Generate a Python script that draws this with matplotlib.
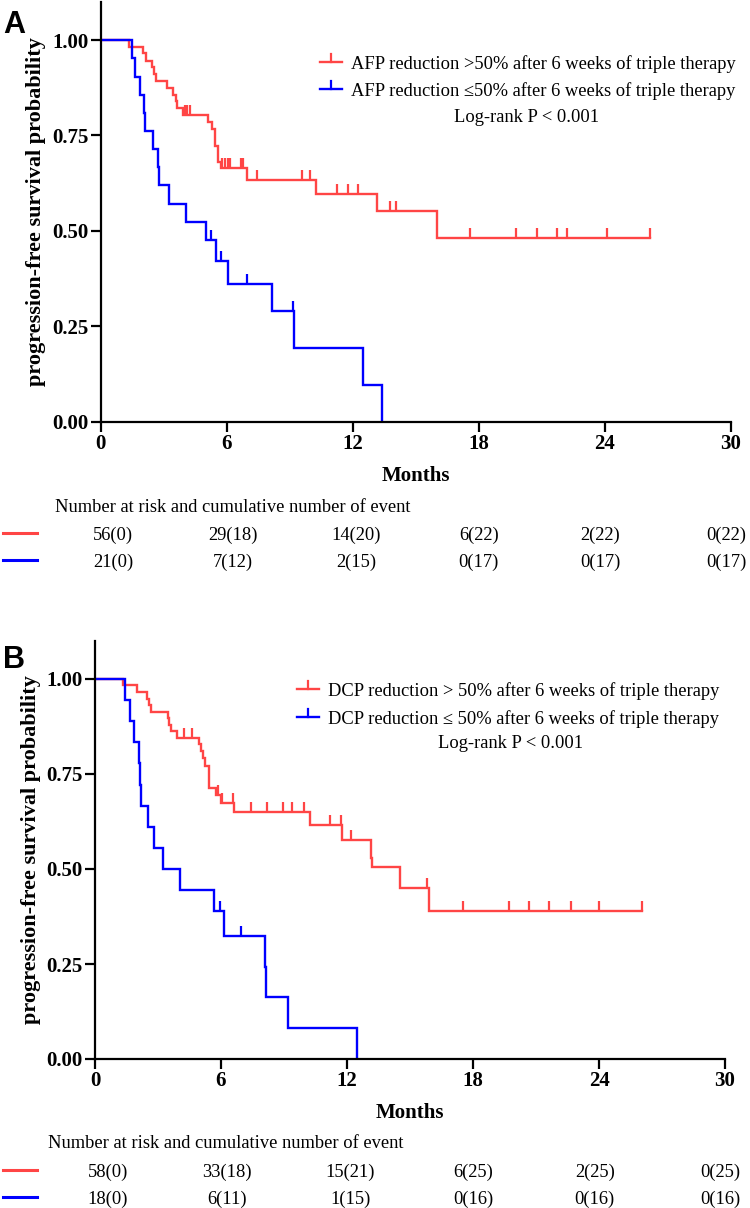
import numpy as np
import matplotlib
matplotlib.use("Agg")
import matplotlib.pyplot as plt
from matplotlib.lines import Line2D

# ---------------- data ----------------
# Panel A (AFP)
a_red_times = [1.36, 2.00, 2.16, 2.45, 2.52, 2.63, 3.17, 3.46, 3.59, 3.65, 3.93,
               5.12, 5.29, 5.44, 5.60, 5.71, 6.95, 10.25, 13.14, 16.00]
a_red_surv = [0.982, 0.965, 0.946, 0.929, 0.911, 0.893, 0.875, 0.857, 0.839, 0.821, 0.804,
              0.786, 0.766, 0.723, 0.681, 0.664, 0.633, 0.597, 0.551, 0.482]
a_red_censor = [4.01, 4.12, 4.25, 5.79, 5.92, 6.05, 6.16, 6.67, 6.79, 7.43, 9.57, 9.97,
                11.24, 11.79, 12.24, 13.78, 14.06, 17.59, 19.78, 20.76, 21.71, 22.19,
                24.10, 26.16]
a_blue_times = [1.48, 1.63, 1.87, 2.06, 2.11, 2.48, 2.71, 2.78, 3.25, 4.06, 5.01,
                5.49, 6.05, 8.16, 9.20, 12.50, 13.40]
a_blue_surv = [0.952, 0.904, 0.856, 0.808, 0.762, 0.714, 0.666, 0.619, 0.571, 0.524,
               0.476, 0.422, 0.362, 0.289, 0.193, 0.096, 0.0]
a_blue_censor = [5.24, 5.71, 6.95, 9.17]

# Panel B (DCP)
b_red_times = [1.35, 1.98, 2.46, 2.55, 2.67, 3.49, 3.54, 3.62, 3.92, 4.97, 5.05, 5.15,
               5.25, 5.44, 5.76, 5.98, 6.63, 10.24, 11.78, 13.13, 13.18, 14.53, 15.92]
b_red_surv = [0.983, 0.966, 0.948, 0.931, 0.914, 0.897, 0.879, 0.862, 0.845, 0.828,
              0.810, 0.792, 0.771, 0.714, 0.695, 0.673, 0.650, 0.617, 0.577, 0.530,
              0.504, 0.450, 0.390]
b_red_censor = [4.25, 4.60, 5.84, 6.03, 6.59, 7.43, 8.17, 8.94, 9.37, 9.95, 11.19, 11.71,
                12.20, 15.79, 17.54, 19.71, 20.68, 21.63, 22.67, 24.01, 26.03]
b_blue_times = [1.45, 1.67, 1.87, 2.11, 2.15, 2.19, 2.51, 2.81, 3.25, 4.05, 5.67, 6.14,
                8.10, 8.14, 9.21, 12.49]
b_blue_surv = [0.944, 0.889, 0.833, 0.778, 0.722, 0.667, 0.611, 0.556, 0.500, 0.444,
               0.389, 0.324, 0.243, 0.162, 0.081, 0.0]
b_blue_censor = [5.95, 6.95]

x_ticks = [0, 6, 12, 18, 24, 30]
y_ticks = [0.00, 0.25, 0.50, 0.75, 1.00]

a_legend = ["AFP reduction >50% after 6 weeks of triple therapy",
            "AFP reduction \u226450% after 6 weeks of triple therapy"]
b_legend = ["DCP reduction > 50% after 6 weeks of triple therapy",
            "DCP reduction \u2264 50% after 6 weeks of triple therapy"]
pvalue_text = "Log-rank P < 0.001"

a_risk_red = ["56(0)", "29(18)", "14(20)", "6(22)", "2(22)", "0(22)"]
a_risk_blue = ["21(0)", "7(12)", "2(15)", "0(17)", "0(17)", "0(17)"]
b_risk_red = ["58(0)", "33(18)", "15(21)", "6(25)", "2(25)", "0(25)"]
b_risk_blue = ["18(0)", "6(11)", "1(15)", "0(16)", "0(16)", "0(16)"]
risk_title = "Number at risk and cumulative number of event"

RED = "#FF4545"
BLUE = "#0000FF"

W, H = 750, 1208
fig = plt.figure(figsize=(W / 100, H / 100), dpi=100)
SERIF = ["Liberation Serif", "DejaVu Serif"]
SANS = ["Liberation Sans", "DejaVu Sans"]


def fx(px):
    return px / W


def fy(py):
    return 1 - py / H


def surv_at(times, surv, t):
    idx = np.searchsorted(times, t, side="right") - 1
    return 1.0 if idx < 0 else surv[idx]


def km(ax, times, surv, censor, color):
    times = np.asarray(times)
    surv = np.asarray(surv)
    xs = [0.0] + list(times)
    ys = [1.0] + list(surv)
    if surv[-1] > 0 and len(censor) and max(censor) > times[-1]:
        xs.append(max(censor))
        ys.append(surv[-1])
    ax.step(xs, ys, where="post", color=color, lw=1.7, solid_joinstyle="miter")
    cy = [surv_at(times, surv, c) for c in censor]
    ax.plot(censor, cy, linestyle="none", marker=2, markersize=7,
            markeredgewidth=1.6, color=color)


def panel(axpos, letter, letter_xy, red, blue, legend, leg_px, p_px,
          risk_red, risk_blue, table_px, months_y):
    ax = fig.add_axes(axpos)
    km(ax, *red, RED)
    km(ax, *blue, BLUE)
    ax.set_xlim(0, 30)
    ax.set_ylim(0, 1.1)
    ax.set_xticks(x_ticks)
    ax.set_yticks(y_ticks)
    ax.set_xticklabels([str(v) for v in x_ticks], family=SERIF, weight="bold", fontsize=15)
    ax.set_yticklabels(["%.2f" % v for v in y_ticks], family=SERIF, weight="bold", fontsize=15)
    for s in ["top", "right"]:
        ax.spines[s].set_visible(False)
    for s in ["left", "bottom"]:
        ax.spines[s].set_linewidth(1.6)
    ax.tick_params(width=1.6, length=7, pad=2)
    ax.set_ylabel("progression-free survival probability", family=SERIF,
                  weight="bold", fontsize=16, labelpad=4)
    x0 = ax.transData.transform((15, 0))[0] / W
    fig.text(x0, fy(months_y), "Months", family=SERIF, weight="bold", fontsize=15,
             ha="center", va="center_baseline")
    fig.text(fx(letter_xy[0]), fy(letter_xy[1]), letter, family=SANS, weight="bold",
             fontsize=22, ha="center", va="center")
    # legend
    lx, ly, dy = leg_px
    for i, (lab, col) in enumerate(zip(legend, [RED, BLUE])):
        yy = ly + i * dy
        fig.add_artist(Line2D([fx(lx), fx(lx + 22)], [fy(yy), fy(yy)], color=col, lw=1.7))
        fig.add_artist(Line2D([fx(lx + 11), fx(lx + 11)], [fy(yy), fy(yy - 8)], color=col, lw=1.6))
        fig.text(fx(lx + 31), fy(yy), lab, family=SERIF, fontsize=13.3, ha="left",
                 va="center_baseline")
    fig.text(fx(p_px[0]), fy(p_px[1]), pvalue_text, family=SERIF, fontsize=13.3,
             ha="center", va="center_baseline")
    # risk table
    tx, ty, ry1, ry2 = table_px
    fig.text(fx(tx), fy(ty), risk_title, family=SERIF, fontsize=13.3, ha="left",
             va="center_baseline")
    offs = [0.6, 0.3, 0.15, 0, -0.2, -0.2]
    for rowvals, col, ry in [(risk_red, RED, ry1), (risk_blue, BLUE, ry2)]:
        fig.add_artist(Line2D([fx(3), fx(37)], [fy(ry), fy(ry)], color=col, lw=2.2))
        for t, v, o in zip(x_ticks, rowvals, offs):
            xd = ax.transData.transform((t + o, 0))[0] / W
            fig.text(xd, fy(ry), v, family=SERIF, fontsize=13.3, ha="center",
                     va="center_baseline")
    return ax


axA = panel([fx(100.7), fy(421.7), 630 / W, 1.1 * 381.7 / H], "A", (14, 25),
            (a_red_times, a_red_surv, a_red_censor),
            (a_blue_times, a_blue_surv, a_blue_censor),
            a_legend, (320, 61.7, 27.5), (527, 116),
            a_risk_red, a_risk_blue, (55, 505, 533, 560), 474)
axB = panel([fx(95), fy(1059), 630 / W, 1.1 * 380 / H], "B", (14, 660),
            (b_red_times, b_red_surv, b_red_censor),
            (b_blue_times, b_blue_surv, b_blue_censor),
            b_legend, (297, 689, 27.7), (511, 742),
            b_risk_red, b_risk_blue, (48, 1141, 1170, 1197), 1111)

fig.savefig("out.png", dpi=100)
